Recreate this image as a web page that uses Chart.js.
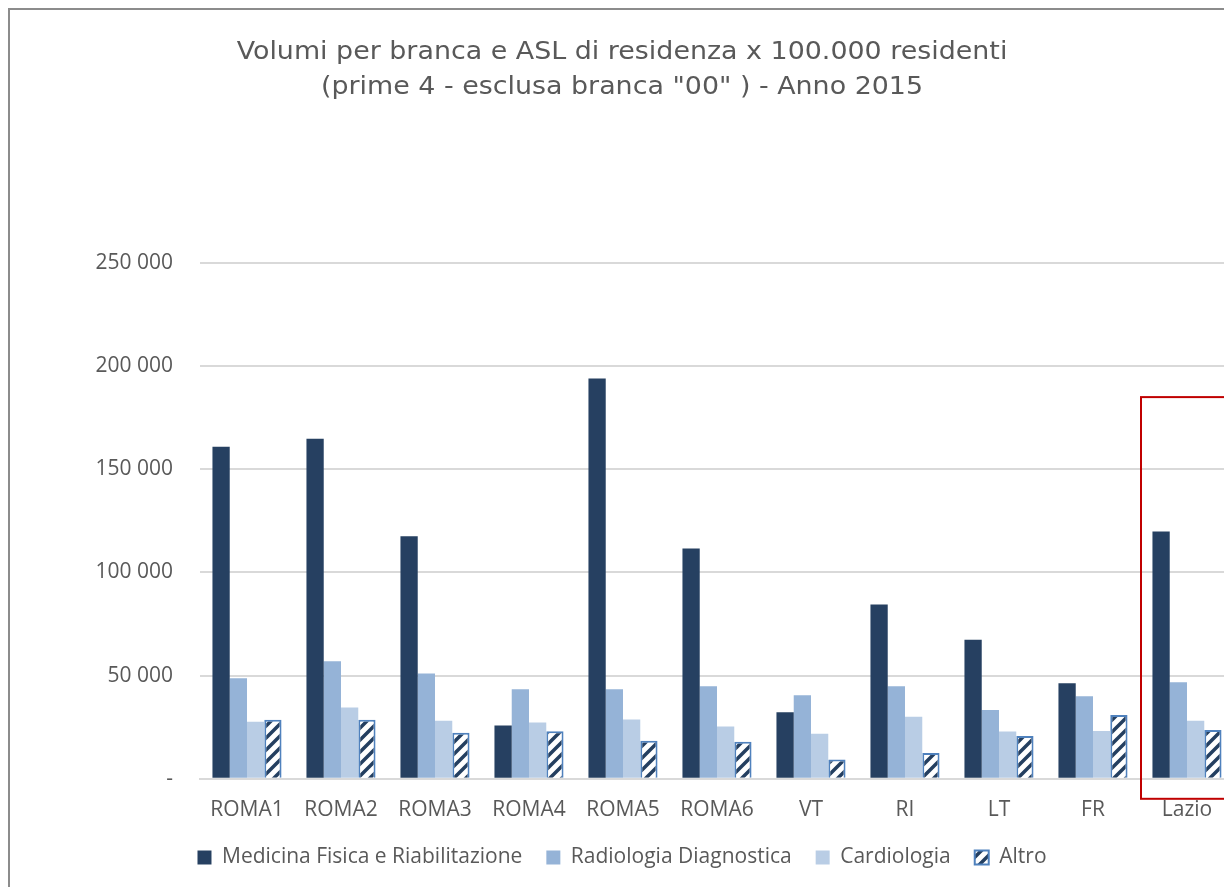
<!DOCTYPE html>
<html>
<head>
<meta charset="utf-8">
<script src="https://cdn.jsdelivr.net/npm/chart.js@4/dist/chart.umd.min.js"></script>
<style>
  html, body { margin: 0; padding: 0; background: #fff; overflow: hidden; }
  #frame {
    position: absolute; left: 8px; top: 8px;
    width: 1240px; height: 900px;
    border: 2px solid #8c8c8c; box-sizing: border-box;
  }
  #chart { position: absolute; left: 0; top: 0; }
</style>
</head>
<body>
<div id="frame"><canvas id="chart" width="1236" height="896"></canvas></div>
<script>
const categories = ["ROMA1", "ROMA2", "ROMA3", "ROMA4", "ROMA5", "ROMA6", "VT", "RI", "LT", "FR", "Lazio"];
const medicinaFisica = [160900, 164800, 117500, 25800, 194000, 111600, 32200, 84500, 67400, 46300, 119900];
const radiologia = [48700, 57000, 51000, 43400, 43400, 44800, 40500, 44800, 33300, 40000, 46800];
const cardiologia = [27600, 34600, 28100, 27300, 28700, 25300, 21800, 30100, 22900, 23200, 28100];
const altro = [28600, 28600, 22300, 23000, 18500, 18000, 9400, 12500, 20800, 30900, 23700];
const yTicks = [0, 50000, 100000, 150000, 200000, 250000];

const textColor = "#595959";
const gridColor = "#d9d9d9";
const labelFont = { family: "Open Sans", size: 21 };

// striped fill for "Altro"
function stripePattern() {
  const size = 12;
  const c = document.createElement("canvas");
  c.width = size; c.height = size;
  const g = c.getContext("2d");
  g.fillStyle = "#fff";
  g.fillRect(0, 0, size, size);
  g.strokeStyle = "#243f60";
  g.lineWidth = 3.5;
  g.beginPath();
  g.moveTo(-2, size + 2); g.lineTo(size + 2, -2);
  g.moveTo(-2, 2); g.lineTo(2, -2);
  g.moveTo(size - 2, size + 2); g.lineTo(size + 2, size - 2);
  g.stroke();
  return g.createPattern(c, "repeat");
}

function formatTick(v) {
  if (v === 0) return "-";
  return String(v).replace(/\B(?=(\d{3})+(?!\d))/g, " ");
}

// red box around the Lazio group
const highlightBox = {
  id: "highlightBox",
  afterDraw(chart) {
    const { ctx, scales: { x, y }, chartArea } = chart;
    const cx = x.getPixelForValue(categories.length - 1);
    const top = y.getPixelForValue(185000);
    ctx.save();
    ctx.strokeStyle = "#c00000";
    ctx.lineWidth = 2;
    ctx.strokeRect(cx - 46, top, 110, chartArea.bottom + 20 - top);
    ctx.restore();
  }
};

const chartData = {
  labels: categories,
  datasets: [
    { label: "Medicina Fisica e Riabilitazione", data: medicinaFisica, backgroundColor: "#264061", borderWidth: 0 },
    { label: "Radiologia Diagnostica", data: radiologia, backgroundColor: "#95b3d7", borderWidth: 0 },
    { label: "Cardiologia", data: cardiologia, backgroundColor: "#b9cde5", borderWidth: 0 },
    { label: "Altro", data: altro, backgroundColor: stripePattern(), borderColor: "#4f81bd", borderWidth: 2 }
  ]
};

const chartConfig = {
  type: "bar",
  data: chartData,
  plugins: [highlightBox],
  options: {
    responsive: false,
    animation: false,
    layout: { padding: { left: 0, right: 12, top: 0, bottom: 28 } },
    datasets: { bar: { categoryPercentage: 0.735, barPercentage: 1 } },
    plugins: {
      title: {
        display: true,
        text: ["Volumi per branca e ASL di residenza x 100.000 residenti", "(prime 4 - esclusa branca \"00\" ) - Anno 2015"],
        color: textColor,
        font: { family: "DejaVu Sans", size: 24, weight: "normal", lineHeight: 35 / 24 },
        padding: { top: 25, bottom: 158 }
      },
      legend: {
        position: "bottom",
        labels: {
          color: textColor,
          font: labelFont,
          boxWidth: 14, boxHeight: 14,
          padding: 24
        }
      },
      tooltip: { enabled: false }
    },
    scales: {
      x: {
        grid: { display: false },
        border: { display: true, color: gridColor, width: 2 },
        ticks: { color: textColor, font: labelFont, padding: 11 },
        afterFit: s => { s.height -= 11; }
      },
      y: {
        min: 0, max: 250000,
        afterBuildTicks: s => { s.ticks = yTicks.map(v => ({ value: v })); },
        grid: { color: gridColor, lineWidth: 2, drawTicks: false },
        border: { display: false },
        ticks: { color: textColor, font: labelFont, padding: 27, callback: formatTick },
        afterFit: s => { s.width = 190; }
      }
    }
  }
};

const chart = new Chart(document.getElementById("chart"), chartConfig);

// the original title font is a bit wider than DejaVu Sans; widen only the title
const drawTitle = chart.titleBlock.draw.bind(chart.titleBlock);
chart.titleBlock.draw = function () {
  const ctx = chart.ctx;
  const cx = (chart.titleBlock.left + chart.titleBlock.right) / 2;
  ctx.save();
  ctx.translate(cx, 0);
  ctx.scale(1.12, 1);
  ctx.translate(-cx, 0);
  drawTitle();
  ctx.restore();
};
chart.draw();
</script>
</body>
</html>
